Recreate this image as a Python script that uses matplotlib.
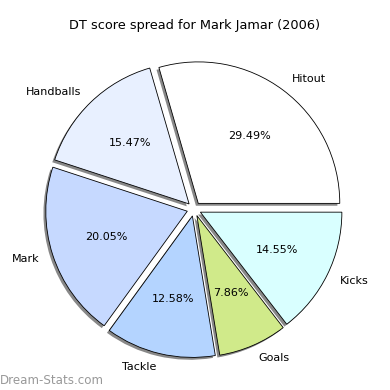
import numpy as np
import matplotlib
matplotlib.use("Agg")
import matplotlib.pyplot as plt

labels = ["Hitout", "Handballs", "Mark", "Tackle", "Goals", "Kicks"]
shares = [29.49, 15.47, 20.05, 12.58, 7.86, 14.55]
colors = ["#ffffff", "#e8f0ff", "#c6d9ff", "#b4d4ff", "#d0ea8a", "#d9ffff"]
explode = [0.05] * len(shares)

fig = plt.figure(figsize=(3.9, 3.9), dpi=100)
ax = fig.add_axes([0.044, 0.0105, 0.907, 0.907])

wedges, texts, autotexts = ax.pie(
    shares, labels=labels, colors=colors, explode=explode,
    autopct="%1.2f%%", startangle=0, counterclock=True,
    shadow=dict(ox=-0.012, oy=-0.012, facecolor="#888888", edgecolor="none", alpha=1.0),
    labeldistance=1.1, pctdistance=0.6,
    wedgeprops=dict(edgecolor="black", linewidth=0.6),
    textprops=dict(fontsize=8),
)
ax.set_xlim(-1.25, 1.25)
ax.set_ylim(-1.25, 1.25)
ax.set_aspect("equal")
ax.axis("off")

fig.text(0.5, 0.935, "DT score spread for Mark Jamar (2006)", ha="center", va="center", fontsize=9.3)
fig.text(0.0, 0.025, "Dream-Stats.com", color="#999999", fontsize=8.6, ha="left", va="center")

fig.savefig("out.png", dpi=100)
